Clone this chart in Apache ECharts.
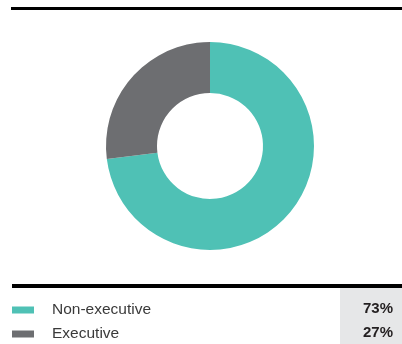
<!DOCTYPE html>
<html>
<head>
<meta charset="utf-8">
<script src="https://cdn.jsdelivr.net/npm/echarts@6/dist/echarts.min.js"></script>
<style>
  html, body { margin: 0; padding: 0; background: #fff; }
  #chart { width: 402px; height: 344px; }
</style>
</head>
<body>
<div id="chart"></div>
<script>
// Board composition
const categories = ['Non-executive', 'Executive'];
const shares = [73, 27];
const colors = ['#4fc1b5', '#6d6e71'];

const FONT = '"Liberation Sans", Arial, Helvetica, sans-serif';
const rowY = [309, 333];

const chart = echarts.init(document.getElementById('chart'));

const percentLabels = shares.map((v, i) => ({
  type: 'text',
  right: 9,
  top: rowY[i] - 8,
  z: 10,
  style: {
    text: v + '%',
    font: 'bold 15px ' + FONT,
    fill: '#231f20',
    textAlign: 'right'
  }
}));

chart.setOption({
  animation: false,
  color: colors,
  legend: {
    orient: 'vertical',
    left: 12,
    top: 302,
    padding: 0,
    itemWidth: 22,
    itemHeight: 7,
    itemGap: 8,
    icon: 'rect',
    selectedMode: false,
    textStyle: {
      fontFamily: FONT,
      fontSize: 15.5,
      lineHeight: 16,
      color: '#3a3a3a',
      padding: [0, 0, 0, 13]
    },
    data: categories
  },
  graphic: [
    { type: 'rect', shape: { x: 11, y: 7, width: 391, height: 3 }, style: { fill: '#000' } },
    { type: 'rect', shape: { x: 340, y: 288, width: 62, height: 56 }, style: { fill: '#e6e7e8' } },
    { type: 'rect', shape: { x: 12, y: 284, width: 390, height: 4 }, style: { fill: '#000' } }
  ].concat(percentLabels),
  series: [{
    type: 'pie',
    center: [210, 146],
    radius: [53, 104],
    startAngle: 90,
    clockwise: true,
    label: { show: false },
    labelLine: { show: false },
    emphasis: { disabled: true },
    itemStyle: { borderWidth: 0 },
    data: categories.map((c, i) => ({ name: c, value: shares[i] }))
  }]
});
</script>
</body>
</html>
